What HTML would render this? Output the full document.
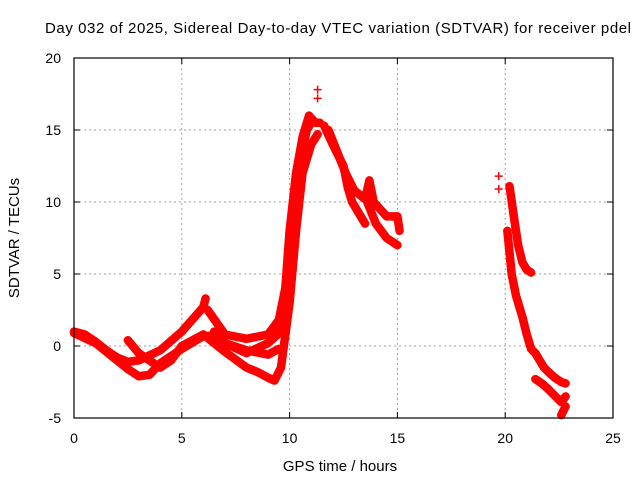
<!DOCTYPE html>
<html><head><meta charset="utf-8"><style>
body{margin:0;background:#fff}
svg{display:block;font-family:"Liberation Sans",sans-serif}
</style></head><body>
<svg id="chart" width="640" height="480" viewBox="0 0 640 480">
<rect width="640" height="480" fill="#fff"/>
<text x="338" y="33" text-anchor="middle" font-size="15" textLength="586">Day 032 of 2025, Sidereal Day-to-day VTEC variation (SDTVAR) for receiver pdel</text>
<g id="grid"></g>
<g id="series"></g>
<rect x="74" y="58" width="539" height="360" fill="none" stroke="#000" stroke-width="1.2"/>
<g id="axes"></g>
<text x="340" y="471" text-anchor="middle" font-size="15">GPS time / hours</text>
<text transform="translate(19,238) rotate(-90)" text-anchor="middle" font-size="15">SDTVAR / TECUs</text>
</svg>
<script>
const xTicks=[0,5,10,15,20,25];
const yTicks=[-5,0,5,10,15,20];
const traceA=[[0,1],[0.5,0.8],[1,0.3],[1.5,-0.3],[2,-0.8],[2.5,-1.1],[3,-1],[4,-0.3],[5,1],[6,2.7],[6.1,3.3]];
const traceB=[[0,0.9],[1,0.2],[2,-1],[2.5,-1.6],[3,-2.1],[3.5,-2],[4,-1.2],[5,-0.2],[6,0.7],[6.5,0.7],[7,0.2],[8,-0.3],[9,-0.6],[9.5,-0.2]];
const traceC=[[2.5,0.4],[3,-0.5],[3.5,-1],[4,-1.5],[4.5,-1],[5,0],[6,0.8],[7,-0.4],[8,-1.5],[8.5,-1.8],[9,-2.2],[9.3,-2.4],[9.6,-1.5],[10,3],[10.3,8],[10.6,12],[11,14],[11.3,14.7]];
const traceD=[[6.2,2.5],[7,0.8],[8,0.5],[9,0.8],[9.5,1.8],[9.8,4],[10,8],[10.3,12],[10.6,14.5],[10.9,16],[11.2,15.5],[11.4,15.5]];
const traceE=[[6.5,1],[7,0.2],[8,-0.5],[9,0.2],[9.6,1],[9.9,5],[10.2,10],[10.5,13],[10.8,15],[11,15.5]];
const traceF=[[11.6,15.3],[12,14],[12.5,12.5],[12.7,11],[12.9,10],[13.3,9],[13.5,8.5]];
const traceG=[[11.8,15],[12.2,13.5],[12.6,12],[13,10.8],[13.5,10.2],[13.7,11.5],[13.9,10],[14.2,9.5],[14.5,9],[15,9],[15.1,8]];
const traceH=[[13.6,10],[14,8.5],[14.5,7.5],[15,7]];
const traceI=[[20.1,8],[20.2,6.5],[20.3,5],[20.5,3.5],[20.8,2],[21,0.8],[21.2,-0.2],[21.4,-0.5],[21.6,-1],[21.8,-1.5],[22,-1.8],[22.3,-2.2],[22.6,-2.5],[22.8,-2.6]];
const traceJ=[[20.2,11.1],[20.4,9],[20.6,7],[20.8,5.8],[21,5.3],[21.2,5.1]];
const traceK=[[21.4,-2.3],[21.7,-2.6],[22,-3],[22.4,-3.6],[22.6,-3.9],[22.8,-3.5]];
const traceL=[[22.6,-4.8],[22.8,-4.2]];
const isolated=[[11.3,17.8],[11.3,17.2],[19.7,11.8],[19.7,10.9]];
const traces=[traceA,traceB,traceC,traceD,traceE,traceF,traceG,traceH,traceI,traceJ,traceK,traceL];

const X=t=>74+t*539/25;
const Y=v=>58+(20-v)*360/25;
const NS='http://www.w3.org/2000/svg';
const grid=document.getElementById('grid'),axes=document.getElementById('axes'),ser=document.getElementById('series');
function mk(tag,attrs,parent){const e=document.createElementNS(NS,tag);for(const k in attrs)e.setAttribute(k,attrs[k]);parent.appendChild(e);return e;}
xTicks.forEach(t=>{
  if(t>0&&t<25){const g=mk('line',{x1:X(t),x2:X(t),y1:58,y2:418,stroke:'#a0a0a0','stroke-dasharray':'2,3'},grid);
  
  }
  const tk=mk('path',{d:`M${X(t)} 418v-6M${X(t)} 58v6`,stroke:'#000'},axes);
  
  
  const l=mk('text',{x:X(t),y:443,'text-anchor':'middle','font-size':14},axes);l.textContent=t;
  
  
});
yTicks.forEach(v=>{
  if(v>-5&&v<20){const g=mk('line',{x1:74,x2:613,y1:Y(v),y2:Y(v),stroke:'#a0a0a0','stroke-dasharray':'2,3'},grid);
  
  }
  const tk=mk('path',{d:`M74 ${Y(v)}h6M613 ${Y(v)}h-6`,stroke:'#000'},axes);
  
  
  const l=mk('text',{x:61,y:Y(v)+5,'text-anchor':'end','font-size':14},axes);l.textContent=v;
  
  
});
traces.forEach(tr=>{
  const p=mk('polyline',{points:tr.map(d=>X(d[0])+','+Y(d[1])).join(' '),fill:'none',stroke:'#ff0000','stroke-width':8.5,'stroke-linejoin':'round','stroke-linecap':'round'},ser);
  
  
});
traces.concat([isolated]).forEach(tr=>tr.forEach(d=>{
  const m=mk('path',{d:`M${X(d[0])-4} ${Y(d[1])}h8M${X(d[0])} ${Y(d[1])-4}v8`,stroke:'#ff0000','stroke-width':1.5},ser);
  
  
}));
</script>
</body></html>
